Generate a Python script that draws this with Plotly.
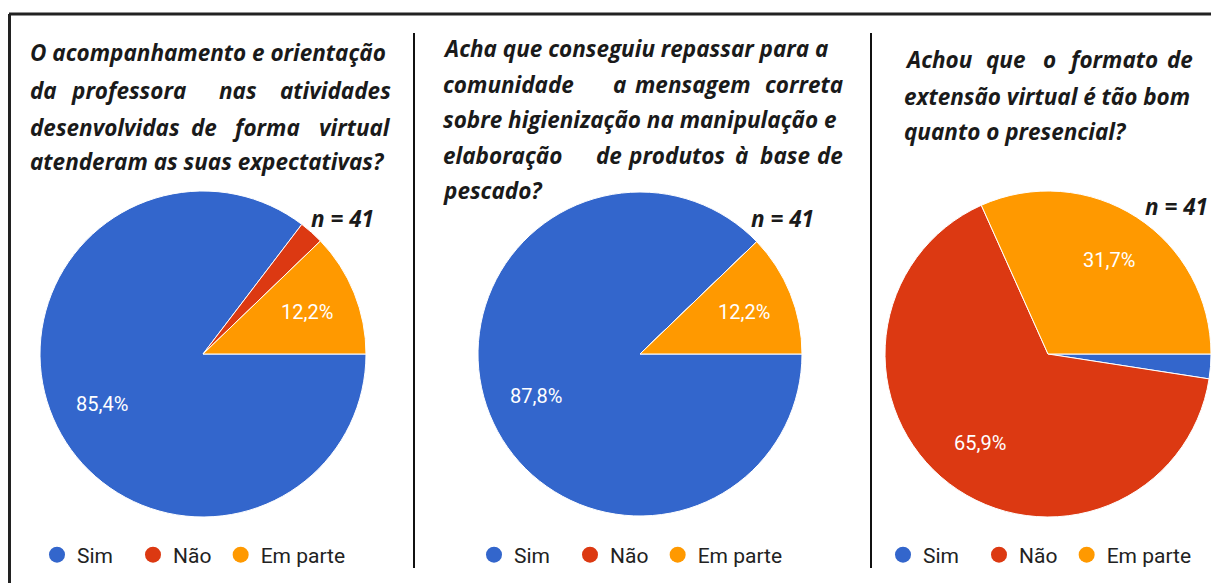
import math
import plotly.graph_objects as go

# The page body keeps an 8 px margin, so the figure is built in page pixels minus 8.
OFF = 8
FW, FH = 1219 - OFF, 583 - OFF

categories = ["Sim", "Não", "Em parte"]
colors = ["#3366cc", "#dc3912", "#ff9900"]
n_total = 41

counts_q1 = [35, 1, 5]
counts_q2 = [36, 0, 5]
counts_q3 = [1, 27, 13]

titles_q1 = ["O acompanhamento e orientação",
             "da professora nas atividades",
             "desenvolvidas de forma virtual",
             "atenderam as suas expectativas?"]
titles_q2 = ["Acha que conseguiu repassar para a",
             "comunidade a mensagem correta",
             "sobre higienização na manipulação e",
             "elaboração de produtos à base de",
             "pescado?"]
titles_q3 = ["Achou que o formato de",
             "extensão virtual é tão bom",
             "quanto o presencial?"]


def px(x):
    return (x - OFF) / FW


def py(y):
    return 1 - (y - OFF) / FH


def fmt_pct(c, tot):
    p = 100 * c / tot
    return ("%.1f%%" % p).replace(".", ",")


fig = go.Figure()
annotations = []

panels = [
    dict(counts=counts_q1, cx=203, cy=354, r=163, legend="legend"),
    dict(counts=counts_q2, cx=640, cy=354, r=162, legend="legend2"),
    dict(counts=counts_q3, cx=1048, cy=354, r=163, legend="legend3"),
]

# extra legend spacing after each entry's text (unicode spaces, display only)
legend_pad = ["\u2002\u2009", "\u2009", ""]

for p in panels:
    counts = p["counts"]
    tot = sum(counts)
    fig.add_trace(go.Pie(
        labels=categories, values=counts, sort=False,
        direction="clockwise", rotation=90,
        marker=dict(colors=colors, line=dict(color="white", width=1)),
        textinfo="none",
        domain=dict(x=[px(p["cx"] - p["r"]), px(p["cx"] + p["r"])],
                    y=[py(p["cy"] + p["r"]), py(p["cy"] - p["r"])]),
        showlegend=False, hoverinfo="label+percent",
    ))
    # slice labels on each slice bisector (Google-chart style), derived from the counts
    cum = 0
    for c in counts:
        frac = c / tot
        mid = (cum + frac / 2) * 2 * math.pi  # clockwise from 3 o'clock
        cum += frac
        if frac < 0.05:
            continue
        lx = p["cx"] + 0.69 * p["r"] * math.cos(mid)
        ly = p["cy"] + 0.69 * p["r"] * math.sin(mid)
        annotations.append(dict(text=fmt_pct(c, tot), x=px(lx), y=py(ly),
                                xref="paper", yref="paper", xanchor="center", yanchor="middle",
                                showarrow=False,
                                font=dict(family="Roboto, Arial, sans-serif", size=20, color="white")))
    for cat, col, pad in zip(categories, colors, legend_pad):
        fig.add_trace(go.Scatter(
            x=[None], y=[None], mode="markers", name=cat + pad,
            marker=dict(color=col, size=20, symbol="circle"),
            legend=p["legend"], showlegend=True,
        ))

legend_common = dict(orientation="h", yanchor="middle", xanchor="left",
                     font=dict(family="Roboto, Arial, sans-serif", size=21, color="#222222"),
                     bgcolor="rgba(0,0,0,0)", itemclick=False, itemdoubleclick=False,
                     tracegroupgap=0)
fig.update_layout(
    legend=dict(x=px(37), y=py(555), **legend_common),
    legend2=dict(x=px(474), y=py(555), **legend_common),
    legend3=dict(x=px(883), y=py(555), **legend_common),
)

title_font = dict(family="'Open Sans', Lato, sans-serif", size=22.5, color="#1a1a1a")


def add_word(text, x, y, anchor="left"):
    annotations.append(dict(text="<b><i>%s</i></b>" % text, x=px(x), y=py(y),
                            xref="paper", yref="paper", xanchor=anchor, yanchor="middle",
                            showarrow=False, font=title_font))


def add_justified(text, left, right, mids, y):
    words = text.split(" ")
    add_word(words[0], left, y, "left")
    for w, mx in zip(words[1:-1], mids):
        add_word(w, mx, y, "center")
    add_word(words[-1], right, y, "right")


# panel 1
add_word(titles_q1[0], 28, 52)
add_justified(titles_q1[1], 28, 393, [128, 238], 90)
add_justified(titles_q1[2], 28, 393, [204, 266], 127)
add_word(titles_q1[3], 28, 162)
# panel 2
add_word(titles_q2[0], 441, 48)
add_justified(titles_q2[1], 441, 845, [619, 693], 84)
add_word(titles_q2[2], 441, 120)
add_justified(titles_q2[3], 441, 845, [609, 676, 741, 785], 155)
add_word(titles_q2[4], 441, 190)
# panel 3
add_justified(titles_q3[0], 903, 1195, [1006, 1049, 1113], 59)
add_word(titles_q3[1], 902, 96)
add_word(titles_q3[2], 902, 131)

# n = 41 labels
for x, y, anc in [(342, 218, "center"), (782, 218, "center"), (1210, 206, "right")]:
    annotations.append(dict(text="<b><i>n = %d</i></b>" % n_total, x=px(x), y=py(y),
                            xref="paper", yref="paper", xanchor=anc, yanchor="middle",
                            showarrow=False, font=title_font))

shapes = [
    dict(type="line", xref="paper", yref="paper", x0=px(9), x1=1, y0=py(14), y1=py(14),
         line=dict(color="#222222", width=3)),
    dict(type="line", xref="paper", yref="paper", x0=px(9.5), x1=px(9.5), y0=py(14), y1=0,
         line=dict(color="#222222", width=3)),
    dict(type="line", xref="paper", yref="paper", x0=px(414), x1=px(414), y0=py(33), y1=py(568),
         line=dict(color="#111111", width=2)),
    dict(type="line", xref="paper", yref="paper", x0=px(871), x1=px(871), y0=py(33), y1=py(568),
         line=dict(color="#111111", width=2)),
]

fig.update_layout(
    width=FW, height=FH, margin=dict(l=0, r=0, t=0, b=0, autoexpand=False),
    paper_bgcolor="white", plot_bgcolor="white",
    annotations=annotations, shapes=shapes,
    xaxis=dict(visible=False), yaxis=dict(visible=False),
)

fig.write_html("out.html")
